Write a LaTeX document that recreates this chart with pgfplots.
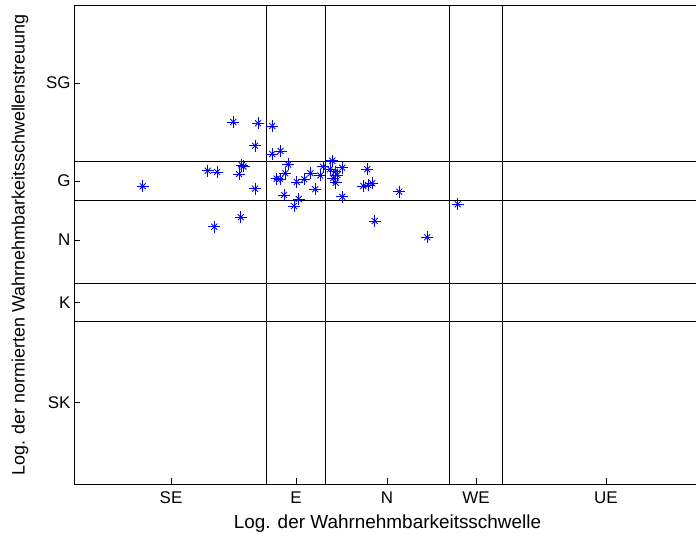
\documentclass[border=0pt]{standalone}
\usepackage{fontspec}
\setmainfont{Liberation Sans}
\usepackage{pgfplots}
\usepackage{pgfplotstable}
\pgfplotsset{compat=1.18}

% threshold (x) against normalised threshold spread (y)
\pgfplotstableread{
x y
233.3 414.0
258.0 412.7
272.3 410.0
255.0 390.3
272.3 382.0
280.5 385.0
241.7 370.7
243.5 369.5
207.7 365.3
217.0 364.0
239.0 362.0
288.3 371.5
285.3 362.7
276.7 357.3
280.0 357.0
296.7 354.0
304.2 356.7
310.5 362.7
320.2 360.5
323.0 369.3
332.3 375.3
330.0 366.7
335.0 364.3
337.3 361.0
342.3 368.3
333.3 357.7
335.7 353.3
315.2 346.8
255.0 347.3
142.7 349.7
284.0 341.0
298.7 337.0
294.0 330.0
342.3 339.3
367.3 366.7
363.3 350.0
368.0 351.0
372.3 352.7
399.3 344.3
457.7 331.7
374.7 315.0
427.3 298.7
240.7 318.7
214.3 309.3
}\stars

\begin{document}
\begin{tikzpicture}
\begin{axis}[
  scale only axis,
  width=624bp, height=479bp,
  xmin=74, xmax=698, ymin=52, ymax=531,
  axis line style={line width=0.7bp, black},
  tick pos=left,
  tick align=inside,
  major tick length=6bp,
  tick style={line width=0.6bp, black},
  xtick={171,296,387,476,606},
  xticklabels={SE,E,N,WE,UE},
  ytick={133.3,233.3,296,355,453},
  yticklabels={SK,K,N,G,SG},
  tick label style={font=\fontsize{17}{20}\selectfont},
  xticklabel style={yshift=-4bp},
  xlabel={Log. der Wahrnehmbarkeitsschwelle},
  ylabel={Log. der normierten Wahrnehmbarkeitsschwellenstreuung},
  every axis x label/.style={at={(axis description cs:0.5024,-0.0835)}, anchor=center, font=\fontsize{19}{22}\selectfont},
  every axis y label/.style={at={(axis description cs:-0.0865,0.499)}, rotate=90, anchor=center, font=\fontsize{18}{21}\selectfont},
  clip=true,
]
% class boundaries
\addplot[black, line width=0.6bp] coordinates {(266,52) (266,531)};
\addplot[black, line width=0.6bp] coordinates {(325,52) (325,531)};
\addplot[black, line width=0.6bp] coordinates {(449,52) (449,531)};
\addplot[black, line width=0.6bp] coordinates {(502,52) (502,531)};
\addplot[black, line width=0.6bp] coordinates {(74,375) (698,375)};
\addplot[black, line width=0.6bp] coordinates {(74,335.3) (698,335.3)};
\addplot[black, line width=0.6bp] coordinates {(74,253) (698,253)};
\addplot[black, line width=0.6bp] coordinates {(74,215) (698,215)};
% star markers: plus and cross overlaid
\addplot[only marks, mark=+, mark size=6bp, color=blue, mark options={line width=0.9bp}] table[x=x, y=y] {\stars};
\addplot[only marks, mark=x, mark size=4.2bp, color=blue, mark options={line width=0.9bp}] table[x=x, y=y] {\stars};
\end{axis}
\pgfresetboundingbox
\path[use as bounding box] ([shift={(-74bp,-52bp)}]current axis.south west) rectangle ([shift={(-2bp,5bp)}]current axis.north east);
\end{tikzpicture}
\end{document}
